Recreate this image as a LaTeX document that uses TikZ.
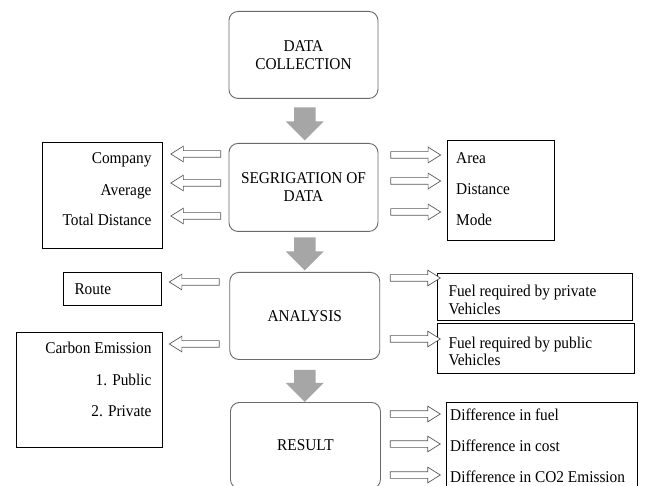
\documentclass[tikz,border=0pt]{standalone}
\usepackage{fontspec}
\setmainfont{Liberation Serif}[FakeStretch=0.93]
\usetikzlibrary{shapes.arrows}
\definecolor{boxgray}{HTML}{6A6A6A}
\definecolor{arrowfill}{HTML}{A6A6A6}
\definecolor{hollowgray}{HTML}{5A5A5A}
\begin{document}
\begin{tikzpicture}[x=1pt,y=-1pt,
  txt/.style={font=\fontsize{16.5}{18}\selectfont, inner sep=0pt},
  rbox/.style={draw=boxgray, line width=0.9pt, rounded corners=9pt, inner sep=0pt, anchor=north west, align=center, font=\fontsize{16.5}{18}\selectfont},
  sbox/.style={draw=black, line width=0.8pt, inner sep=0pt, anchor=north west},
  garrow/.style={single arrow, fill=arrowfill, draw=none, shape border rotate=270,
    inner sep=10.5pt, single arrow head extend=8.25pt},
  harrow/.style={single arrow, draw=hollowgray, line width=0.7pt, fill=white,
    inner sep=3pt, single arrow head extend=4.5pt, single arrow tip angle=64,
    minimum height=50pt},
  larrow/.style={harrow, shape border rotate=180},
  rarrow/.style={harrow, shape border rotate=0}
]
\clip (0,0) rectangle (648,486);
\fill[white] (0,0) rectangle (648,486);

% main column
\node[rbox, minimum width=149pt, minimum height=87pt] (dc) at (228.5,11) {DATA\\COLLECTION};
\node[rbox, minimum width=149pt, minimum height=88pt] (seg) at (228.5,143) {SEGRIGATION OF\\DATA};
\node[rbox, minimum width=150pt, minimum height=87pt] (ana) at (229.3,272) {ANALYSIS};
\node[rbox, minimum width=150pt, minimum height=86pt] (res) at (230,402) {RESULT};

% gray arrows between main boxes
\node[garrow, minimum height=33pt] (g1) at (304.8,118.5) {};
\node[garrow, minimum height=33pt] (g2) at (304.8,248.5) {};
\node[garrow, minimum height=25pt] (g3) at (304.8,380.5) {};

% segregation row
\node[sbox, minimum width=120pt, minimum height=106pt] (lbox) at (41.5,142) {};
\node[txt, anchor=base east] (t1) at (151.7,164) {Company};
\node[txt, anchor=base east] (t2) at (151.7,196) {Average};
\node[txt, anchor=base east] (t3) at (151.7,226) {Total Distance};

\node[sbox, minimum width=107pt, minimum height=100pt] (rbx) at (446.6,140) {};
\node[txt, anchor=base west] (t4) at (456,164) {Area};
\node[txt, anchor=base west] (t5) at (456,195) {Distance};
\node[txt, anchor=base west] (t6) at (456,226) {Mode};

\node[larrow] (la1) at (198.5,154) {};
\node[larrow] (la2) at (198.5,183) {};
\node[larrow] (la3) at (198.5,216) {};
\node[rarrow] (ra1) at (413,155) {};
\node[rarrow] (ra2) at (413,181) {};
\node[rarrow] (ra3) at (413,212) {};

% analysis row
\node[sbox, minimum width=97.4pt, minimum height=32.7pt] (route) at (63.3,272.3) {};
\node[txt, anchor=base west] (t7) at (74.3,294.3) {Route};

\node[sbox, minimum width=146.3pt, minimum height=115pt] (carb) at (16,331.7) {};
\node[txt, anchor=base east] (t8) at (151.7,353.3) {Carbon Emission};
\node[txt, anchor=base east] (t9) at (151.7,385.7) {1. Public};
\node[txt, anchor=base east] (t10) at (151.7,416.7) {2. Private};

\node[sbox, minimum width=195pt, minimum height=46.7pt] (fpriv) at (437.3,273.3) {};
\node[txt, anchor=base west] (t11) at (448.3,296.7) {Fuel required by private};
\node[txt, anchor=base west] (t12) at (448.3,315) {Vehicles};
\node[sbox, minimum width=197pt, minimum height=50pt] (fpub) at (437.3,323.3) {};
\node[txt, anchor=base west] (t13) at (448.3,348.3) {Fuel required by public};
\node[txt, anchor=base west] (t14) at (448.3,365.5) {Vehicles};

\node[larrow] (la4) at (197,282) {};
\node[larrow] (la5) at (197,344) {};
\node[rarrow] (ra4) at (412.6,278) {};
\node[rarrow] (ra5) at (412.6,339) {};

% result row
\node[sbox, minimum width=190.8pt, minimum height=90pt] (rres) at (445.8,402) {};
\node[txt, anchor=base west] (t15) at (450,420) {Difference in fuel};
\node[txt, anchor=base west] (t16) at (450,451) {Difference in cost};
\node[txt, anchor=base west] (t17) at (450,482) {Difference in CO2 Emission};

\node[rarrow] (ra6) at (412.6,414) {};
\node[rarrow] (ra7) at (412.6,444) {};
\node[rarrow] (ra8) at (412.6,475) {};
\end{tikzpicture}
\end{document}
